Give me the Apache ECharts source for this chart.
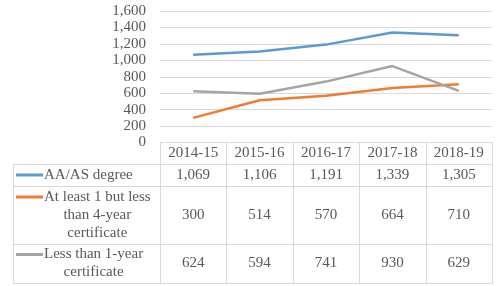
<!DOCTYPE html>
<html lang="en">
<head>
    <meta charset="UTF-8">
    <title>Awards by type</title>
    <script type="text/javascript" src="https://cdn.jsdelivr.net/npm/echarts@6/dist/echarts.min.js"></script>
    <style>
        html, body { margin: 0; padding: 0; background: #fff; }
        #container { width: 496px; height: 286px; }
    </style>
</head>
<body>
<div id="container"></div>
<script type="text/javascript">
    // data
    var years = ['2014-15', '2015-16', '2016-17', '2017-18', '2018-19'];
    var seriesNames = ['AA/AS degree', 'At least 1 but less\nthan 4-year\ncertificate', 'Less than 1-year\ncertificate'];
    var aaDegree = [1069, 1106, 1191, 1339, 1305];
    var cert1to4 = [300, 514, 570, 664, 710];
    var certUnder1 = [624, 594, 741, 930, 629];
    var yTicks = [0, 200, 400, 600, 800, 1000, 1200, 1400, 1600];

    var allValues = [aaDegree, cert1to4, certUnder1];
    var colors = ['#5b9bd5', '#ed7d31', '#a5a5a5'];

    var FONT = "'Liberation Serif', 'Times New Roman', serif";
    var TXT = '#595959';
    var BORDER = '#d9d9d9';

    // layout of the plot + data table
    var gl = 160, gr = 492, gtop = 11, gbot = 142.5;
    var tblLeft = 13;
    var rowEdges = [164, 186, 244, 283];   // borders of the 3 body rows
    var colW = (gr - gl) / years.length;

    function fmt(v) { return v.toLocaleString('en-US'); }

    var dom = document.getElementById('container');
    var myChart = echarts.init(dom, null, { renderer: 'canvas' });

    var graphics = [];
    function hline(x1, x2, y) {
        graphics.push({ type: 'line', silent: true,
            shape: { x1: x1, y1: y + 0.5, x2: x2, y2: y + 0.5 },
            style: { stroke: BORDER, lineWidth: 1 } });
    }
    function vline(x, y1, y2) {
        graphics.push({ type: 'line', silent: true,
            shape: { x1: x + 0.5, y1: y1, x2: x + 0.5, y2: y2 },
            style: { stroke: BORDER, lineWidth: 1 } });
    }

    // table borders
    hline(gl, gr, Math.floor(gbot));
    for (var r = 0; r < rowEdges.length; r++) hline(tblLeft, gr, rowEdges[r]);
    vline(tblLeft, rowEdges[0], rowEdges[3] + 1);
    for (var c = 0; c <= years.length; c++) {
        vline(Math.round(gl + c * colW), Math.floor(gbot), rowEdges[3] + 1);
    }

    // measure text to center wrapped labels within their own block
    var ctx = document.createElement('canvas').getContext('2d');
    ctx.font = '15px ' + FONT;

    allValues.forEach(function (vals, s) {
        var rowTop = rowEdges[s], rowBot = rowEdges[s + 1];
        var midY = (rowTop + rowBot) / 2;
        var lines = seriesNames[s].split('\n');
        var maxW = 0;
        lines.forEach(function (l) { maxW = Math.max(maxW, ctx.measureText(l).width); });
        var lineH = 18;
        var firstY = midY - (lines.length - 1) * lineH / 2;
        // legend key
        graphics.push({ type: 'line', silent: true,
            shape: { x1: 16, y1: firstY, x2: 43, y2: firstY },
            style: { stroke: colors[s], lineWidth: 3 } });
        graphics.push({ type: 'text', silent: true,
            x: 44 + maxW / 2, y: midY,
            style: { text: seriesNames[s], fill: TXT, font: '15px ' + FONT,
                align: 'center', verticalAlign: 'middle', lineHeight: lineH } });
        vals.forEach(function (v, i) {
            graphics.push({ type: 'text', silent: true,
                x: gl + (i + 0.5) * colW, y: midY,
                style: { text: fmt(v), fill: TXT, font: '15px ' + FONT,
                    align: 'center', verticalAlign: 'middle' } });
        });
    });

    var option = {
        animation: false,
        grid: { left: gl, right: 496 - gr, top: gtop, height: gbot - gtop },
        xAxis: {
            type: 'category',
            data: years,
            boundaryGap: true,
            axisLine: { show: false },
            axisTick: { show: false },
            axisLabel: { color: TXT, fontFamily: FONT, fontSize: 15, margin: 3 }
        },
        yAxis: {
            type: 'value',
            min: yTicks[0],
            max: yTicks[yTicks.length - 1],
            interval: yTicks[1] - yTicks[0],
            axisLine: { show: false },
            axisTick: { show: false },
            axisLabel: { color: TXT, fontFamily: FONT, fontSize: 15, margin: 14,
                formatter: function (v) { return fmt(v); } },
            splitLine: { lineStyle: { color: BORDER, width: 1 } }
        },
        series: allValues.map(function (vals, k) {
            return {
                name: seriesNames[k],
                type: 'line',
                data: vals,
                symbol: 'none',
                lineStyle: { color: colors[k], width: 2.5 },
                itemStyle: { color: colors[k] }
            };
        }),
        graphic: graphics
    };

    myChart.setOption(option);
    window.addEventListener('resize', myChart.resize);
</script>
</body>
</html>
